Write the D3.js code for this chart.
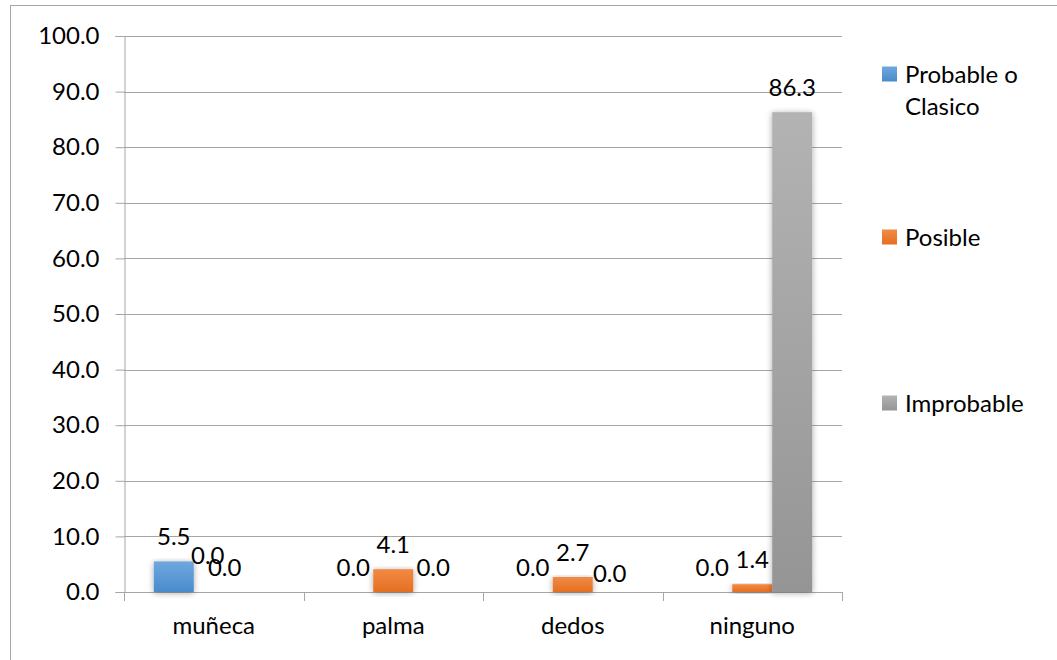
<!DOCTYPE html>
<html>
<head>
<meta charset="utf-8">
<script src="https://cdn.jsdelivr.net/npm/d3@7"></script>
<style>
  html, body { margin: 0; padding: 0; background: #fff; }
  svg { display: block; }
  text { font-family: Lato, "Open Sans", sans-serif; fill: #000; }
</style>
</head>
<body>
<svg id="chart" width="1057" height="660"></svg>
<script>
// Categories and series
const categories = ["muñeca", "palma", "dedos", "ninguno"];
const seriesNames = ["Probable o Clasico", "Posible", "Improbable"];
const probable = [5.5, 0.0, 0.0, 0.0];
const posible = [0.0, 4.1, 2.7, 1.4];
const improbable = [0.0, 0.0, 0.0, 86.3];
const yTicks = [0, 10, 20, 30, 40, 50, 60, 70, 80, 90, 100];

// label nudges where neighbouring labels would collide [category-series] -> [dx, dy]
const labelNudge = {
  "0-1": [-6, -12],
  "0-2": [-29, 0],
  "2-2": [-3, 6]
};

const series = [probable, posible, improbable];
const colors = [
  ["#6fa8de", "#4a8bcc"],
  ["#f28a45", "#e46f22"],
  ["#b3b3b3", "#959595"]
];
const FONT = "24px";

const svg = d3.select("#chart");
const defs = svg.append("defs");

colors.forEach((c, i) => {
  const g = defs.append("linearGradient")
    .attr("id", "grad" + i)
    .attr("x1", 0).attr("y1", 0).attr("x2", 0).attr("y2", 1);
  g.append("stop").attr("offset", "0%").attr("stop-color", c[0]);
  g.append("stop").attr("offset", "100%").attr("stop-color", c[1]);
});

const shadow = defs.append("filter").attr("id", "shadow")
  .attr("x", "-40%").attr("y", "-10%").attr("width", "180%").attr("height", "130%");
shadow.append("feDropShadow")
  .attr("dx", 0).attr("dy", 1).attr("stdDeviation", 3)
  .attr("flood-color", "#000").attr("flood-opacity", 0.35);

// chart border
svg.append("rect")
  .attr("x", 10.5).attr("y", 5.5)
  .attr("width", 1100).attr("height", 700)
  .attr("fill", "none").attr("stroke", "#a6a6a6").attr("stroke-width", 1);

const plot = { left: 124, right: 842, top: 36, bottom: 592 };

const x0 = d3.scaleBand().domain(categories)
  .range([plot.left, plot.right]).paddingInner(0).paddingOuter(0);
const groupW = x0.bandwidth() * 0.668;
const x1 = d3.scaleBand().domain(d3.range(series.length))
  .range([0, groupW]).padding(0);
const groupOffset = (x0.bandwidth() - groupW) / 2;

const y = d3.scaleLinear().domain([0, 100]).range([plot.bottom, plot.top]);

// gridlines
svg.append("g")
  .selectAll("line").data(yTicks.filter(d => d > 0)).join("line")
  .attr("x1", plot.left).attr("x2", plot.right)
  .attr("y1", d => Math.round(y(d)) + 0.5).attr("y2", d => Math.round(y(d)) + 0.5)
  .attr("stroke", "#a6a6a6").attr("stroke-width", 1);

// y axis
const yAxis = svg.append("g")
  .attr("transform", `translate(${plot.left + 0.5},0)`)
  .call(d3.axisLeft(y).tickValues(yTicks).tickFormat(d3.format(".1f")).tickSize(9).tickPadding(16));
yAxis.select(".domain").attr("stroke", "#a6a6a6");
yAxis.selectAll(".tick line").attr("stroke", "#a6a6a6");
yAxis.selectAll("text").style("font-size", FONT).attr("fill", "#000");

// x axis
const xAxis = svg.append("g")
  .attr("transform", `translate(0,${plot.bottom + 0.5})`)
  .call(d3.axisBottom(x0).tickSize(0).tickPadding(24));
xAxis.select(".domain").attr("stroke", "#a6a6a6").attr("d", `M${plot.left},0H${plot.right}`);
xAxis.selectAll("text").style("font-size", FONT).attr("fill", "#000");
// category boundary ticks
const bounds = categories.map(c => x0(c)).concat([plot.right]);
svg.append("g").selectAll("line").data(bounds).join("line")
  .attr("x1", d => Math.round(d) + 0.5).attr("x2", d => Math.round(d) + 0.5)
  .attr("y1", plot.bottom).attr("y2", plot.bottom + 9)
  .attr("stroke", "#a6a6a6");

// bars
const barData = [];
categories.forEach((c, ci) => {
  series.forEach((s, si) => {
    barData.push({ c, ci, si, v: s[ci] });
  });
});

svg.append("g").selectAll("rect").data(barData.filter(d => d.v > 0)).join("rect")
  .attr("x", d => x0(d.c) + groupOffset + x1(d.si))
  .attr("width", x1.bandwidth())
  .attr("y", d => y(d.v))
  .attr("height", d => y(0) - y(d.v))
  .attr("fill", d => `url(#grad${d.si})`)
  .attr("filter", "url(#shadow)");

// value labels
svg.append("g").selectAll("text").data(barData).join("text")
  .attr("x", d => x0(d.c) + groupOffset + x1(d.si) + x1.bandwidth() / 2 + (labelNudge[d.ci + "-" + d.si] || [0, 0])[0])
  .attr("y", d => y(d.v) - 25 + (labelNudge[d.ci + "-" + d.si] || [0, 0])[1])
  .attr("dy", "0.36em")
  .attr("text-anchor", "middle")
  .style("font-size", FONT)
  .text(d => d3.format(".1f")(d.v));

// legend
const legendY = [74, 237, 403];
const legend = svg.append("g");
seriesNames.forEach((name, i) => {
  legend.append("rect")
    .attr("x", 882).attr("y", legendY[i] - 7.5)
    .attr("width", 15).attr("height", 15)
    .attr("fill", `url(#grad${i})`);
  const t = legend.append("text")
    .attr("x", 905).attr("y", legendY[i]).attr("dy", "0.36em")
    .style("font-size", FONT);
  if (i === 0) {
    t.append("tspan").attr("x", 905).text("Probable o");
    t.append("tspan").attr("x", 905).attr("dy", "1.35em").text("Clasico");
  } else {
    t.text(name);
  }
});
</script>
</body>
</html>
